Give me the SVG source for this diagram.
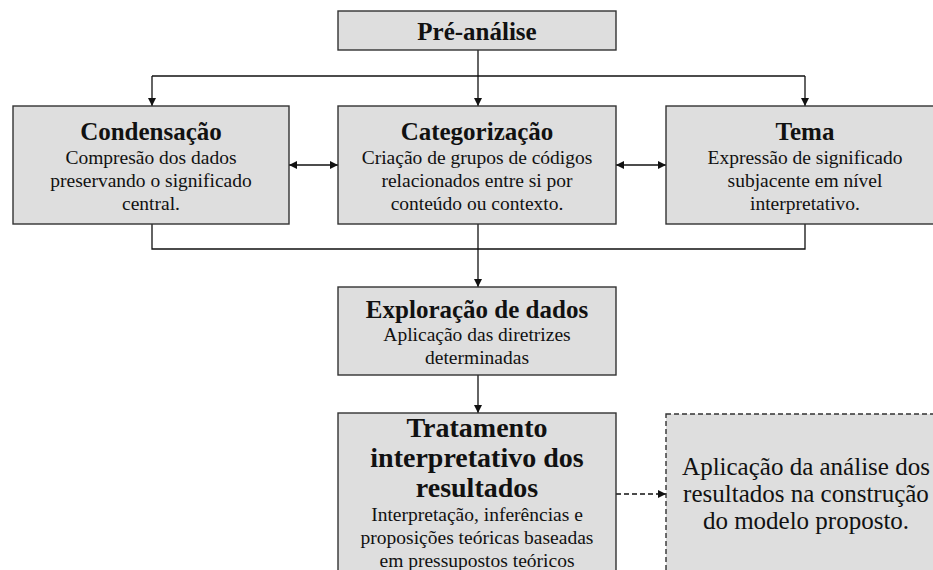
<svg xmlns="http://www.w3.org/2000/svg" width="933" height="570" viewBox="0 0 933 570">
<style>
.box{fill:#dedede;stroke:#333;stroke-width:1.4}
.dbox{fill:#dedede;stroke:#333;stroke-width:1.4;stroke-dasharray:5 3}
.t{font-family:"Liberation Serif","Times New Roman",serif;font-weight:bold;font-size:25px;fill:#111;text-anchor:middle}
.tb{font-family:"Liberation Serif","Times New Roman",serif;font-weight:bold;font-size:28px;fill:#111;text-anchor:middle}
.b{font-family:"Liberation Serif","Times New Roman",serif;font-size:19.5px;fill:#111;text-anchor:middle}
.d{font-family:"Liberation Serif","Times New Roman",serif;font-size:25px;fill:#111;text-anchor:middle}
.c{fill:none;stroke:#111;stroke-width:1.3}
.cd{fill:none;stroke:#111;stroke-width:1.3;stroke-dasharray:5 3}
</style>
<defs>
<marker id="ah" viewBox="0 0 10 10" refX="10" refY="5" markerWidth="8" markerHeight="8" markerUnits="userSpaceOnUse" orient="auto-start-reverse">
<path d="M0,0 L10,5 L0,10 z" fill="#111"/>
</marker>
</defs>
<rect width="933" height="570" fill="#fff"/>
<g id="connectors">
<path class="c" d="M478,50 V106" marker-end="url(#ah)"/>
<path class="c" d="M152,76 H805"/>
<path class="c" d="M152,76 V106" marker-end="url(#ah)"/>
<path class="c" d="M805,76 V106" marker-end="url(#ah)"/>
<path class="c" d="M289,165 H338" marker-start="url(#ah)" marker-end="url(#ah)"/>
<path class="c" d="M616,165 H666" marker-start="url(#ah)" marker-end="url(#ah)"/>
<path class="c" d="M152,224 V249 H805 V224"/>
<path class="c" d="M478,224 V287" marker-end="url(#ah)"/>
<path class="c" d="M478,375 V413" marker-end="url(#ah)"/>
<path class="cd" d="M616,494 H666" marker-end="url(#ah)"/>
</g>
<g id="pre-analise">
<rect class="box" x="338" y="11" width="278" height="39"/>
<text class="t" x="477" y="40">Pré-análise</text>
</g>
<g id="condensacao">
<rect class="box" x="13" y="106" width="276" height="118"/>
<text class="t" x="151" y="140">Condensação</text>
<text class="b" x="151" y="164">Compresão dos dados</text>
<text class="b" x="151" y="187">preservando o significado</text>
<text class="b" x="151" y="210">central.</text>
</g>
<g id="categorizacao">
<rect class="box" x="338" y="106" width="278" height="118"/>
<text class="t" x="477" y="140">Categorização</text>
<text class="b" x="477" y="164">Criação de grupos de códigos</text>
<text class="b" x="477" y="187">relacionados entre si por</text>
<text class="b" x="477" y="210">conteúdo ou contexto.</text>
</g>
<g id="tema">
<rect class="box" x="666" y="106" width="280" height="118"/>
<text class="t" x="805" y="140">Tema</text>
<text class="b" x="805" y="164">Expressão de significado</text>
<text class="b" x="805" y="187">subjacente em nível</text>
<text class="b" x="805" y="210">interpretativo.</text>
</g>
<g id="exploracao">
<rect class="box" x="338" y="287" width="278" height="88"/>
<text class="t" x="477" y="318">Exploração de dados</text>
<text class="b" x="477" y="341">Aplicação das diretrizes</text>
<text class="b" x="477" y="364">determinadas</text>
</g>
<g id="tratamento">
<rect class="box" x="338" y="413" width="278" height="170"/>
<text class="tb" x="477" y="437">Tratamento</text>
<text class="tb" x="477" y="467">interpretativo dos</text>
<text class="tb" x="477" y="497">resultados</text>
<text class="b" x="477" y="521">Interpretação, inferências e</text>
<text class="b" x="477" y="544">proposições teóricas baseadas</text>
<text class="b" x="477" y="567">em pressupostos teóricos</text>
</g>
<g id="aplicacao">
<rect class="dbox" x="666" y="414" width="280" height="170"/>
<text class="d" x="806" y="475">Aplicação da análise dos</text>
<text class="d" x="806" y="502">resultados na construção</text>
<text class="d" x="806" y="529">do modelo proposto.</text>
</g>
</svg>
